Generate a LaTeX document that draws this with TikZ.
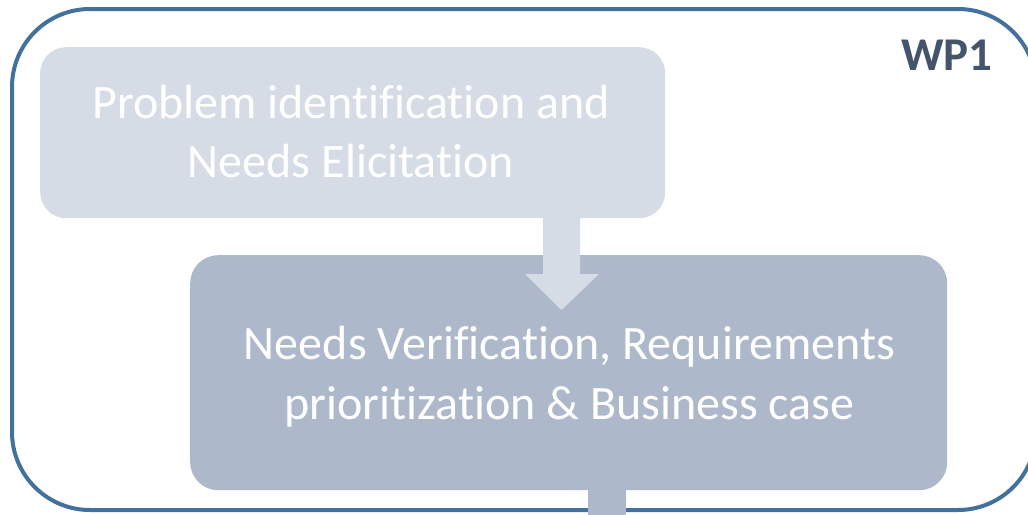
\documentclass[tikz,border=0pt]{standalone}
\usepackage{fontspec}
\setmainfont{Carlito}[Ligatures={NoCommon,NoRequired,NoContextual}]
\definecolor{frameblue}{HTML}{41719C}
\definecolor{lightbox}{HTML}{D6DCE5}
\definecolor{midbox}{HTML}{ADB9CA}
\definecolor{wptext}{HTML}{44546A}
\begin{document}
\begin{tikzpicture}[x=1pt,y=-1pt,
  boxtext/.style={text=white,font=\fontsize{48}{59}\selectfont,anchor=base,inner sep=0pt},
  wp/.style={text=wptext,font=\fontsize{47}{56}\selectfont\bfseries,anchor=base,inner sep=0pt}]
\useasboundingbox (0,0) rectangle (1028,514);
% outer frame
\draw[frameblue,line width=4pt,rounded corners=78pt] (12,9) rectangle (1036,510);
\node[wp] (wp) at (947,70) {WP1};
% box 1
\node[fill=lightbox,rounded corners=26pt,minimum width=625pt,minimum height=171pt,inner sep=0pt,anchor=north west] (b1) at (40,47) {};
\node[boxtext] (t1a) at (351,118) {Problem identification and};
\node[boxtext] (t1b) at (351,177) {Needs Elicitation};
% box 2
\node[fill=midbox,rounded corners=28pt,minimum width=757pt,minimum height=235pt,inner sep=0pt,anchor=north west] (b2) at (190,255) {};
% arrow
\coordinate (atop) at (561.5,200);
\fill[lightbox] (atop) ++(-18.5,0) -- ++(0,74) -- ++(-18,0) -- (561.5,310) -- (599,274) -- ++(-19,0) -- ++(0,-74) -- cycle;
\node[boxtext] (t2a) at (569.5,359) {Needs Verification, Requirements};
\node[boxtext] (t2b) at (569.5,419) {prioritization \& Business case};
% stub out
\fill[midbox] (b2.south) ++(19.5,-10) rectangle ++(38,50);
\end{tikzpicture}
\end{document}
